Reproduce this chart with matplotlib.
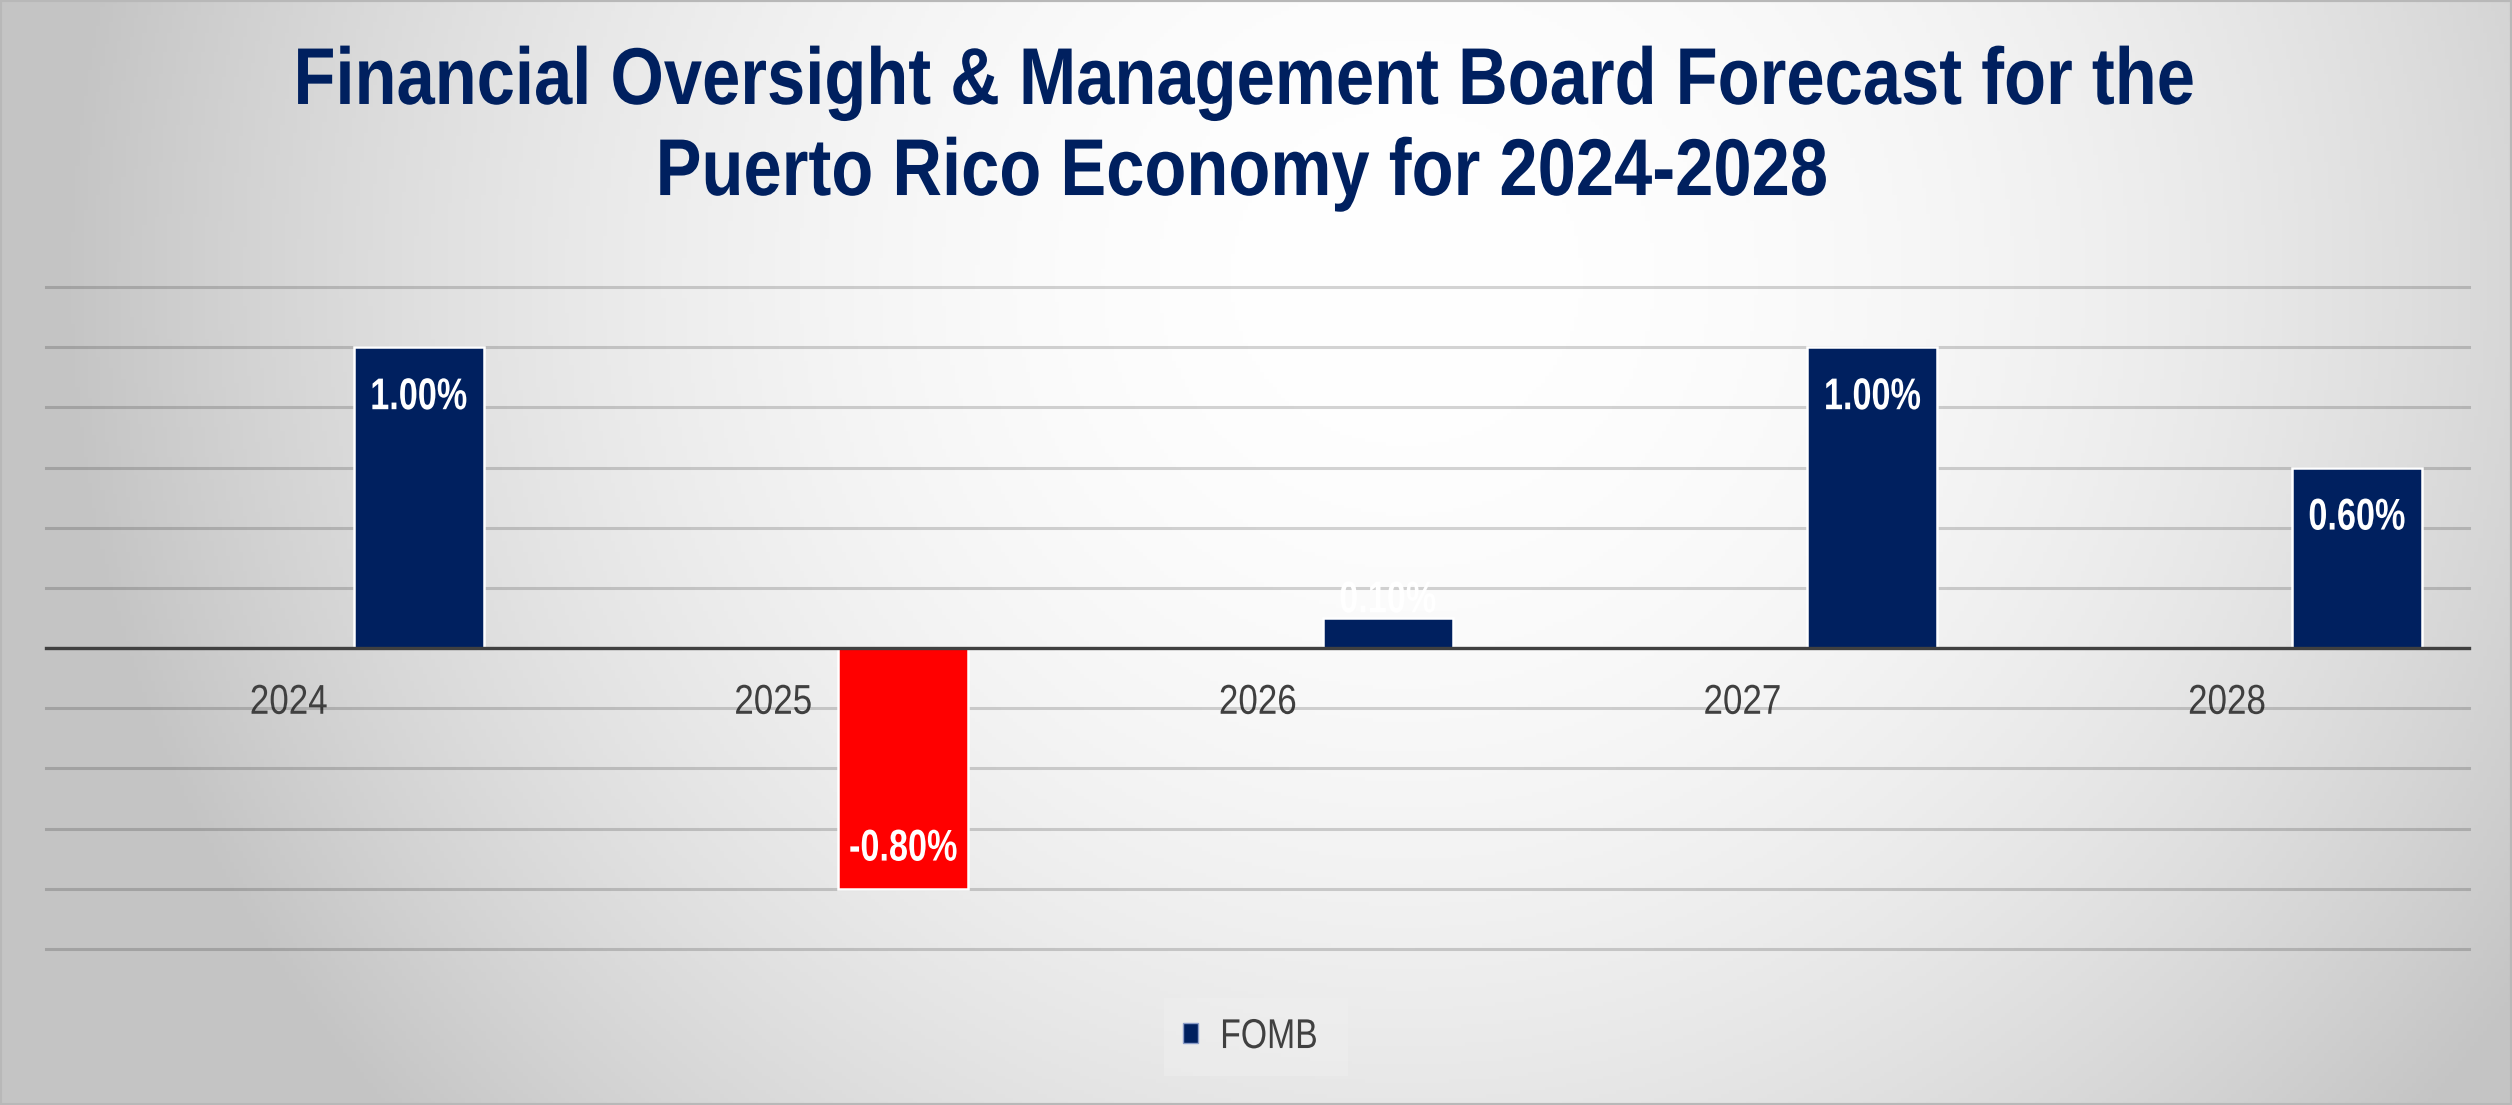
import numpy as np
import matplotlib
matplotlib.use("Agg")
import matplotlib.pyplot as plt
from matplotlib.patches import Patch, Rectangle
from matplotlib.patheffects import AbstractPathEffect
from matplotlib.transforms import Affine2D

plt.rcParams['font.family'] = ['Liberation Sans', 'DejaVu Sans']

years = ['2024', '2025', '2026', '2027', '2028']
fomb = [1.00, -0.80, 0.10, 1.00, 0.60]
series_name = 'FOMB'
title_lines = ['Financial Oversight & Management Board Forecast for the',
               'Puerto Rico Economy for 2024-2028']

navy = '#00205f'
red = '#ff0000'


# the source uses a narrow font, squeeze glyphs horizontally around each line centre
class Squeeze(AbstractPathEffect):
    def __init__(self, sx):
        super().__init__()
        self.sx = sx

    def draw_path(self, renderer, gc, tpath, affine, rgbFace=None):
        ext = tpath.get_extents()
        cx = (ext.x0 + ext.x1) / 2
        pre = Affine2D().translate(-cx, 0).scale(self.sx, 1).translate(cx, 0)
        renderer.draw_path(gc, tpath, pre + affine, rgbFace)


fig = plt.figure(figsize=(25.12, 11.05), dpi=100)

# background gradient
bg = fig.add_axes([0, 0, 1, 1], zorder=-10)
gx, gy = np.meshgrid(np.linspace(0, 1, 600), np.linspace(0, 1, 300))
r2 = ((gx - 0.56) / 0.55) ** 2 + ((gy - 0.25) / 1.2) ** 2
shade = np.clip(255 - 62 * r2, 196, 255) / 255.0
bg.imshow(np.dstack([shade] * 3), aspect='auto', extent=[0, 1, 1, 0])
bg.set_xlim(0, 1)
bg.set_ylim(1, 0)
bg.axis('off')
bg.add_patch(Rectangle((0, 0), 1, 1, transform=bg.transAxes, fill=False,
                       edgecolor='#b8b8b8', linewidth=3, clip_on=False))

ax = fig.add_axes([0.0185, 0.1412, 0.9645, 0.5991])
ax.set_facecolor('none')
for s in ['top', 'left', 'right']:
    ax.spines[s].set_visible(False)
ax.spines['bottom'].set_position(('data', 0))
ax.spines['bottom'].set_color('#404040')
ax.spines['bottom'].set_linewidth(2.4)
ax.spines['bottom'].set_zorder(3)

x = np.arange(len(years))
w = 0.268
colors = [red if v < 0 else navy for v in fomb]
ax.bar(x + w, fomb, width=w, color=colors, edgecolor='white', linewidth=1.8,
       label=series_name, zorder=2)

for xi, v in zip(x, fomb):
    pos = np.sign(v) * max(abs(v) - 0.15, 0.175) - 0.018
    ax.text(xi + w, pos, f'{v:.2f}%', ha='center', va='center', color='white',
            fontsize=32, fontweight='bold', zorder=4, path_effects=[Squeeze(0.77)])

ax.set_xlim(-0.5, 4.5)
ax.set_ylim(-1.0, 1.2)
ax.set_yticks(np.arange(-1.0, 1.21, 0.2))
ax.yaxis.grid(True, color='black', alpha=0.17, linewidth=2.2)
for gl in ax.get_ygridlines():
    gl.set_clip_on(False)
ax.set_axisbelow(True)
ax.tick_params(axis='y', left=False, labelleft=False)

ax.set_xticks(x)
ax.set_xticklabels(years)
ax.tick_params(axis='x', length=0, pad=25, labelsize=30, labelcolor='#404040')
for lbl in ax.get_xticklabels():
    lbl.set_path_effects([Squeeze(0.84)])

fig.text(0.495, 0.9059, title_lines[0], ha='center', va='baseline',
         fontsize=58, fontweight='bold', color=navy, path_effects=[Squeeze(0.853)])
fig.text(0.494, 0.8235, title_lines[1], ha='center', va='baseline',
         fontsize=58, fontweight='bold', color=navy, path_effects=[Squeeze(0.853)])

handle = Patch(facecolor=navy, edgecolor='#8a9cc8', linewidth=1)
leg = fig.legend([handle], [series_name], loc='center', bbox_to_anchor=(0.5, 0.0615),
                 fontsize=30, handlelength=0.36, handleheight=0.36, handletextpad=0.25,
                 fancybox=False, frameon=True, borderpad=0.45)
leg.get_frame().set_facecolor('#f0f0f0')
leg.get_frame().set_alpha(0.45)
leg.get_frame().set_edgecolor('none')
for t in leg.get_texts():
    t.set_color('#404040')
    t.set_path_effects([Squeeze(0.81)])

fig.savefig('out.png', dpi=100)
